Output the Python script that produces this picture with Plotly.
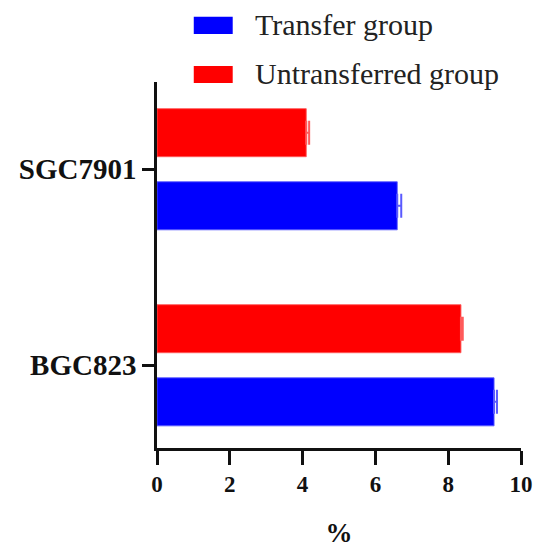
import plotly.graph_objects as go

categories = ["BGC823", "SGC7901"]
transfer_vals = [9.26, 6.60]
transfer_err = [0.08, 0.11]
untransferred_vals = [8.35, 4.10]
untransferred_err = [0.05, 0.08]
x_ticks = [0, 2, 4, 6, 8, 10]
series_names = ["Transfer group", "Untransferred group"]

BLUE = "#0000ff"
RED = "#ff0000"
FONT = "Liberation Serif"

fig = go.Figure()
fig.add_trace(go.Bar(
    y=categories, x=transfer_vals, orientation="h", name=series_names[0],
    marker=dict(color=BLUE, line=dict(color="rgba(90,90,255,0.9)", width=1)),
    width=0.245, offset=-0.31,
    error_x=dict(type="data", array=transfer_err, arrayminus=[0, 0], symmetric=False,
                 color="rgba(90,90,255,1)", thickness=2, width=12),
    showlegend=False,
))
fig.add_trace(go.Bar(
    y=categories, x=untransferred_vals, orientation="h", name=series_names[1],
    marker=dict(color=RED, line=dict(color="rgba(255,90,90,0.9)", width=1)),
    width=0.245, offset=0.063,
    error_x=dict(type="data", array=untransferred_err, arrayminus=[0, 0], symmetric=False,
                 color="rgba(255,90,90,1)", thickness=2, width=12),
    showlegend=False,
))

# Legend drawn as patches + labels in paper coordinates
legend_colors = [BLUE, RED]
legend_rows = [(1.131, 1.178, 1.156), (0.997, 1.044, 1.022)]
for name, col, (y0, y1, yt) in zip(series_names, legend_colors, legend_rows):
    fig.add_shape(type="rect", xref="paper", yref="paper", x0=0.101, x1=0.208,
                  y0=y0, y1=y1, fillcolor=col, line=dict(width=0))
    fig.add_annotation(xref="paper", yref="paper", x=0.263, y=yt, text=name,
                       showarrow=False, xanchor="left", yanchor="middle",
                       font=dict(family=FONT, size=30, color="#222"))

fig.update_layout(
    width=536, height=548,
    margin=dict(l=157, r=15, t=82, b=100, autoexpand=False),
    paper_bgcolor="white", plot_bgcolor="white",
    barmode="overlay",
    font=dict(family=FONT, color="#111"),
    xaxis=dict(
        range=[0, 10], tickvals=x_ticks, ticktext=[str(t) for t in x_ticks],
        showline=True, linecolor="#111", linewidth=2.5,
        ticks="outside", ticklen=14, tickwidth=2.5, tickcolor="#111",
        showgrid=False, zeroline=False, automargin=False,
        tickfont=dict(family=FONT, size=23, color="#111", weight="bold"),
        title=dict(text="<b>%</b>", font=dict(family=FONT, size=27, color="#111"), standoff=36),
    ),
    yaxis=dict(
        type="category", categoryorder="array", categoryarray=categories,
        range=[-0.423, 1.444],
        showline=True, linecolor="#111", linewidth=2.5,
        ticks="outside", ticklen=12, tickwidth=2.5, tickcolor="#111",
        showgrid=False, zeroline=False, automargin=False,
        ticklabelstandoff=0,
        tickfont=dict(family=FONT, size=29, color="#111", weight="bold"),
    ),
)

fig.write_html(
    "out.html",
    config={"displayModeBar": False},
    post_script="document.body.style.margin='0';document.body.style.overflow='hidden';",
)
